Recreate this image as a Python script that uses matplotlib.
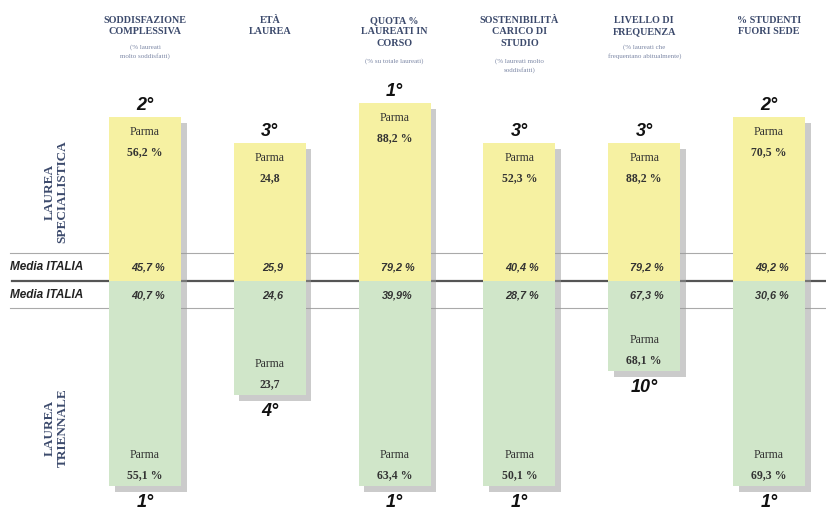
import matplotlib.pyplot as plt
from matplotlib import patheffects as pe

# column headers and notes
headers = ["SODDISFAZIONE\nCOMPLESSIVA", "ETÀ\nLAUREA", "QUOTA %\nLAUREATI IN\nCORSO",
           "SOSTENIBILITÀ\nCARICO DI\nSTUDIO", "LIVELLO DI\nFREQUENZA", "% STUDENTI\nFUORI SEDE"]
notes = ["(% laureati\nmolto soddisfatti)", "", "(% su totale laureati)",
         "(% laureati molto\nsoddisfatti)", "(% laureati che\nfrequentano abitualmente)", ""]

# laurea specialistica
spec_parma = [56.2, 24.8, 88.2, 52.3, 88.2, 70.5]
spec_rank = [2, 3, 1, 3, 3, 2]
spec_media = [45.7, 25.9, 79.2, 40.4, 79.2, 49.2]
spec_media_unit = [" %", "", " %", " %", " %", " %"]

# laurea triennale
tri_parma = [55.1, 23.7, 63.4, 50.1, 68.1, 69.3]
tri_rank = [1, 4, 1, 1, 10, 1]
tri_media = [40.7, 24.6, 39.9, 28.7, 67.3, 30.6]
tri_media_unit = [" %", "", "%", " %", " %", " %"]

parma_unit = [" %", "", " %", " %", " %", " %"]

# layout (pixel coords)
X0, DX, BW = 145, 124.8, 72
MID = 281
TOP_LEN = {1: 178, 2: 164, 3: 138}           # bar length by rank (upper)
BOT_LEN = {1: 205, 4: 114, 10: 90}           # bar length by rank (lower)
YELLOW, GREEN = "#f6f1a2", "#d0e6c9"
NAVY = "#3c4a6c"

def fmt(v, unit):
    return f"{v:.1f}".replace(".", ",") + unit

fig = plt.figure(figsize=(8.26, 5.15), dpi=100)
ax = fig.add_axes([0, 0, 1, 1])
ax.set_xlim(0, 826)
ax.set_ylim(515, 0)
ax.axis("off")

xs = [X0 + i * DX for i in range(len(headers))]
shadow = [pe.SimplePatchShadow(offset=(4, -4), shadow_rgbFace="#999999", alpha=0.5), pe.Normal()]

# media italia band lines
ax.axhline(253, xmin=10 / 826, color="#aaaaaa", lw=0.8, zorder=1)
ax.axhline(308, xmin=10 / 826, color="#aaaaaa", lw=0.8, zorder=1)
ax.axhline(MID, xmin=12 / 826, color="#555555", lw=1.6, zorder=1)

top_len = [TOP_LEN[r] for r in spec_rank]
bot_len = [BOT_LEN[r] for r in tri_rank]
ax.bar(xs, [-h for h in top_len], bottom=MID, width=BW, color=YELLOW, zorder=2,
       path_effects=shadow)
ax.bar(xs, bot_len, bottom=MID, width=BW, color=GREEN, zorder=2,
       path_effects=shadow)

serif = "Liberation Serif"
sans = "Liberation Sans"

for i, x in enumerate(xs):
    nl = headers[i].count("\n") + 1
    ax.text(x, 16, headers[i], ha="center", va="top", family=serif, weight="bold",
            fontsize=7.3, color=NAVY, linespacing=1.35)
    if notes[i]:
        ax.text(x, 17 + nl * 13.8, notes[i], ha="center", va="top", family=serif,
                fontsize=5, color="#7d88a6", linespacing=1.6)

    # upper bar labels
    t = MID - top_len[i]
    ax.text(x, t - 3, f"{spec_rank[i]}°", ha="center", va="bottom", family=sans,
            weight="bold", style="italic", fontsize=13, color="#111111")
    ax.text(x, t + 15, "Parma", ha="center", va="center", family=serif,
            fontsize=8.5, color="#333333")
    ax.text(x, t + 35, fmt(spec_parma[i], parma_unit[i]), ha="center", va="center",
            family=serif, weight="bold", fontsize=8.5, color="#333333")

    # media italia values
    ax.text(x + 3, 267, fmt(spec_media[i], spec_media_unit[i]), ha="center", va="center",
            family=sans, weight="bold", style="italic", fontsize=7.8, color="#333333", zorder=3)
    ax.text(x + 3, 295, fmt(tri_media[i], tri_media_unit[i]), ha="center", va="center",
            family=sans, weight="bold", style="italic", fontsize=7.8, color="#333333", zorder=3)

    # lower bar labels
    b = MID + bot_len[i]
    ax.text(x, b - 31, "Parma", ha="center", va="center", family=serif,
            fontsize=8.5, color="#333333")
    ax.text(x, b - 11, fmt(tri_parma[i], parma_unit[i]), ha="center", va="center",
            family=serif, weight="bold", fontsize=8.5, color="#333333")
    ax.text(x, b + 8, f"{tri_rank[i]}°", ha="center", va="top", family=sans,
            weight="bold", style="italic", fontsize=13, color="#111111")

ax.text(10, 267, "Media ITALIA", ha="left", va="center", family=sans, weight="bold",
        style="italic", fontsize=8.5, color="#222222")
ax.text(10, 295, "Media ITALIA", ha="left", va="center", family=sans, weight="bold",
        style="italic", fontsize=8.5, color="#222222")

ax.text(56, 192, "LAUREA\nSPECIALISTICA", rotation=90, ha="center", va="center",
        family=serif, weight="bold", fontsize=9.5, color=NAVY, linespacing=1.1)
ax.text(56, 428, "LAUREA\nTRIENNALE", rotation=90, ha="center", va="center",
        family=serif, weight="bold", fontsize=9.5, color=NAVY, linespacing=1.1)

fig.savefig("out.png", dpi=100)
